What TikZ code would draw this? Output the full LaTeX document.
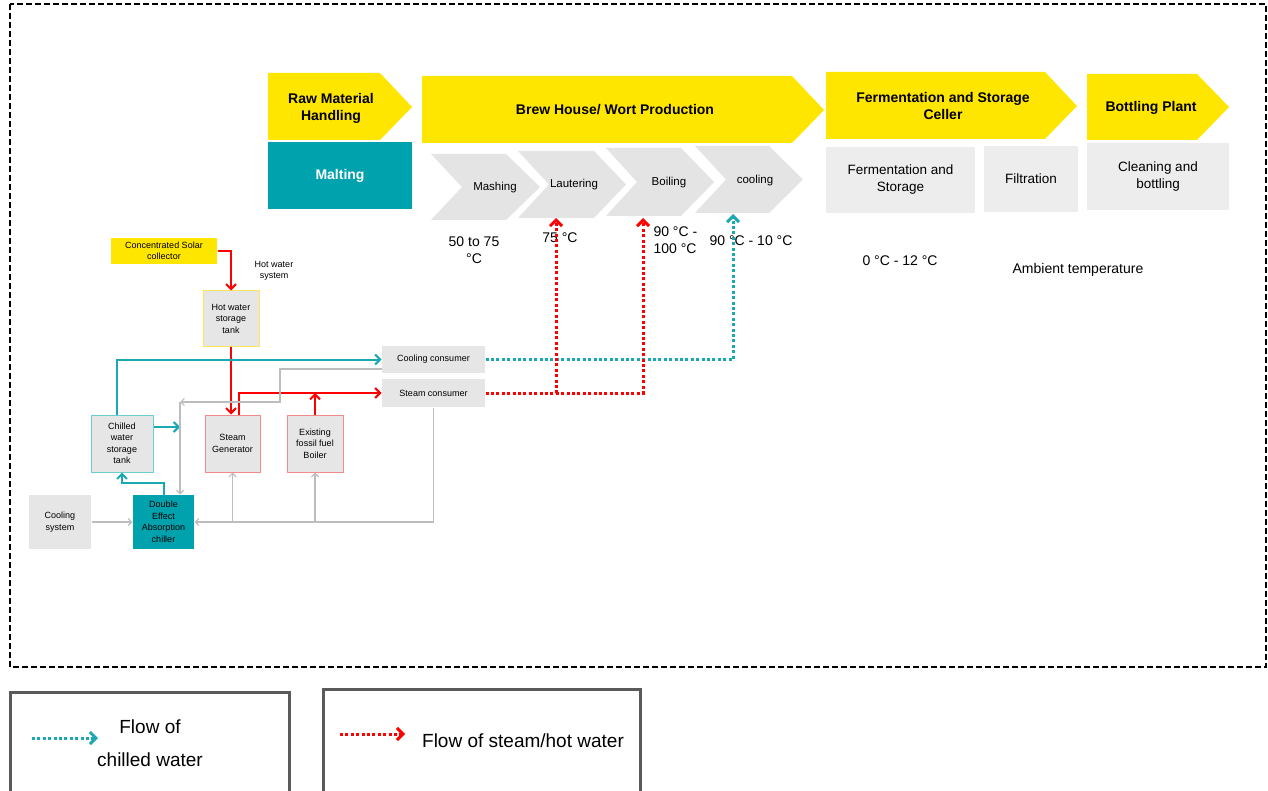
\documentclass[tikz,border=0pt]{standalone}
\usepackage{fontspec}
\setmainfont{Liberation Sans}
\usetikzlibrary{arrows.meta}
\definecolor{brewyellow}{HTML}{FFE600}
\definecolor{brewteal}{HTML}{00A3AD}
\definecolor{tealline}{HTML}{1AA9B2}
\definecolor{tealedge}{HTML}{6CCDD3}
\definecolor{chevgray}{HTML}{E4E4E4}
\definecolor{cellgray}{HTML}{EDEDED}
\definecolor{unitgray}{HTML}{E6E6E6}
\definecolor{linegray}{HTML}{BDBDBD}
\definecolor{rededge}{HTML}{F58A8A}
\definecolor{yellowedge}{HTML}{FFE45C}
\definecolor{legendgray}{HTML}{5A5A5A}

\tikzset{
  hdr/.style={font=\fontsize{14}{17}\selectfont\bfseries, align=center},
  stagelabel/.style={font=\fontsize{11.5}{13}\selectfont},
  cell/.style={fill=cellgray, inner sep=0pt, align=center, font=\fontsize{13.5}{17}\selectfont},
  templabel/.style={font=\fontsize{14}{16.5}\selectfont, align=center},
  unit/.style={fill=unitgray, inner sep=0pt, align=center, line width=1pt, font=\fontsize{9}{11.5}\selectfont},
  grayflow/.style={draw=linegray, line width=1.2pt, -{Straight Barb[length=3.5pt,width=7pt]}},
  redflow/.style={draw=red, line width=2pt, -{Straight Barb[length=5pt,width=10pt]}},
  tealflow/.style={draw=tealline, line width=2pt, -{Straight Barb[length=5pt,width=10pt]}},
  reddots/.style={draw=red, line width=3pt, dash pattern=on 3pt off 2.4pt, -{Straight Barb[length=6pt,width=12pt]}},
  tealdots/.style={draw=tealline, line width=3pt, dash pattern=on 3pt off 2.4pt, -{Straight Barb[length=6pt,width=12pt]}},
  legendbox/.style={draw=legendgray, line width=3pt},
}

\begin{document}
\begin{tikzpicture}[x=1pt,y=-1pt]
\clip (0,0) rectangle (1268,791);
\fill[white] (0,0) rectangle (1268,791);
\draw[line width=2pt, dash pattern=on 6pt off 3pt] (10,4) rectangle (1266,667);

% process stages
\fill[brewyellow] (268,73) -- (380,73) -- (412,107) -- (380,140) -- (268,140) -- cycle;
\node[hdr] (raw) at (331,108) {Raw Material\\Handling};
\node[fill=brewteal, minimum width=144pt, minimum height=67pt, inner sep=0pt,
      hdr, text=white] (malting) at (340,175.5) {Malting};
\fill[brewyellow] (422,76) -- (792,76) -- (824,110) -- (792,143) -- (422,143) -- cycle;
\node[hdr] (brew) at (615,110) {Brew House/ Wort Production};
\fill[brewyellow] (826,72) -- (1045,72) -- (1077,106) -- (1045,139) -- (826,139) -- cycle;
\node[hdr] (ferm) at (943,106) {Fermentation and Storage\\Celler};
\fill[brewyellow] (1087,74) -- (1197,74) -- (1229,107) -- (1197,140) -- (1087,140) -- cycle;
\node[hdr] (bottling) at (1151,108) {Bottling Plant};

% brew house steps
\fill[chevgray] (431,154) -- (506,154) -- (540,187) -- (506,220) -- (431,220) -- (462,187) -- cycle;
\fill[chevgray] (518,151) -- (594,151) -- (626,184.5) -- (594,218) -- (518,218) -- (549,184.5) -- cycle;
\fill[chevgray] (606,148) -- (681,148) -- (714,182) -- (681,216) -- (606,216) -- (637,182) -- cycle;
\fill[chevgray] (695,146) -- (769,146) -- (803,179.5) -- (769,213) -- (695,213) -- (726,179.5) -- cycle;
\node[stagelabel] (mashing) at (495,188) {Mashing};
\node[stagelabel] (lautering) at (574,185) {Lautering};
\node[stagelabel] (boiling) at (669,183) {Boiling};
\node[stagelabel] (cooling) at (755,181) {cooling};

\node[cell, minimum width=149pt, minimum height=66pt] (fermbox) at (900.5,180) {Fermentation and\\Storage};
\node[cell, minimum width=94pt, minimum height=66pt] (filtbox) at (1031,179) {Filtration};
\node[cell, minimum width=142pt, minimum height=67pt] (cleanbox) at (1158,176.5) {Cleaning and\\bottling};

% temperatures
\node[templabel] (t1) at (474,250) {50 to 75\\°C};
\node[templabel] (t2) at (560,238) {75 °C};
\node[templabel, anchor=west, align=left] (t3) at (650,240) {90 °C -\\100 °C};
\node[templabel] (t4) at (751,241) {90 °C - 10 °C};
\node[templabel] (t5) at (900,261) {0 °C - 12 °C};
\node[templabel] (t6) at (1078,270) {Ambient temperature};

% energy system
\node[unit, fill=brewyellow, minimum width=106pt, minimum height=26pt] (solar) at (164,251) {Concentrated Solar\\collector};
\node[font=\fontsize{9}{11.5}\selectfont, align=center] (hwsys) at (274,271) {Hot water\\system};
\node[unit, draw=yellowedge, minimum width=56pt, minimum height=55pt] (hwtank) at (231,318.5) {Hot water\\storage\\tank};
\node[unit, draw=tealedge, minimum width=62pt, minimum height=57pt] (chtank) at (122,443.5) {Chilled\\water\\storage\\tank};
\node[unit, draw=rededge, minimum width=55pt, minimum height=57pt] (steamgen) at (232.5,443.5) {Steam\\Generator};
\node[unit, draw=rededge, minimum width=56pt, minimum height=57pt] (boiler) at (315,443.5) {Existing\\fossil fuel\\Boiler};
\node[unit, minimum width=103pt, minimum height=27pt] (coolcons) at (433.5,359.5) {Cooling consumer};
\node[unit, minimum width=103pt, minimum height=28pt] (steamcons) at (433.5,393) {Steam consumer};
\node[unit, minimum width=62pt, minimum height=54pt] (coolsys) at (60,522) {Cooling\\system};
\node[unit, fill=brewteal, minimum width=61pt, minimum height=54pt] (chiller) at (163.5,522) {Double\\Effect\\Absorption\\chiller};

\coordinate (chout) at (180,427);
\coordinate (ret) at (180,402);
\coordinate (lautip) at (556,218);
\coordinate (boiltip) at (643,218);
\coordinate (cooltip) at (733,214);

\draw[redflow] (solar.east) -| (hwtank.north);
\draw[redflow] (hwtank.south) -- (hwtank.south |- steamgen.north);
\draw[redflow] ([xshift=6pt]steamgen.north) |- (steamcons.west);
\draw[redflow] (boiler.north) -- (boiler.north |- steamcons.west);
\draw[tealflow] ([xshift=-5pt]chtank.north) |- (coolcons.west);
\draw[tealflow] (chtank.east |- chout) -- (chout);
\draw[tealflow] (chiller.north) -- ++(0,-12) -| (chtank.south);
\draw[grayflow] (coolsys.east) -- (chiller.west);
\draw[grayflow] (steamcons.south) |- (chiller.east);
\draw[grayflow] (steamgen.south |- chiller.east) -- (steamgen.south);
\draw[grayflow] (boiler.south |- chiller.east) -- (boiler.south);
\draw[grayflow] ([yshift=-9.5pt]coolcons.west) -| (280,402) -- (ret);
\draw[grayflow] (ret) -- (ret |- chiller.north);

\draw[tealdots] (coolcons.east) -| (cooltip);
\draw[reddots] (steamcons.east) -| (lautip);
\draw[reddots] (steamcons.east) -| (boiltip);

% legend
\draw[legendbox] (10,692) rectangle (289,800);
\draw[legendbox] (323,689) rectangle (640,800);
\coordinate (lgcA) at (32,738);
\coordinate (lgcB) at (98,738);
\coordinate (lgsA) at (340,734);
\coordinate (lgsB) at (405,734);
\draw[tealdots] (lgcA) -- (lgcB);
\draw[reddots] (lgsA) -- (lgsB);
\node[font=\fontsize{19}{33}\selectfont, align=center] (lgchill) at (150,743.5) {Flow of\\chilled water};
\node[font=\fontsize{19}{22}\selectfont] (lgsteam) at (523,741) {Flow of steam/hot water};
\end{tikzpicture}
\end{document}
